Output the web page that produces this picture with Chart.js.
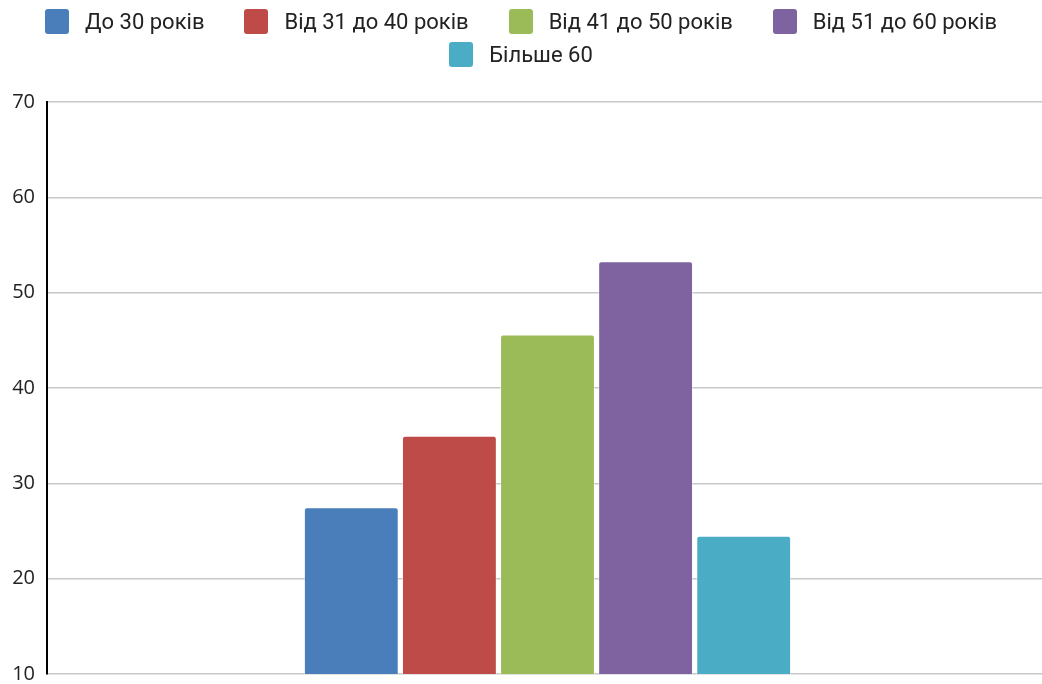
<!DOCTYPE html>
<html>
<head>
<meta charset="utf-8">
<script src="https://cdn.jsdelivr.net/npm/chart.js@4"></script>
<style>
  body { margin: 0; background: #fff; }
  #wrap { position: relative; width: 1042px; height: 684px; overflow: hidden; }
  #legend {
    position: absolute; top: 9px; left: 0; width: 1042px;
    display: flex; flex-wrap: wrap; justify-content: center;
    column-gap: 40px; row-gap: 8px;
    font-family: Roboto, sans-serif; font-size: 22px; color: #222;
  }
  .item { display: flex; align-items: center; height: 25px; }
  .box { width: 24px; height: 25px; border-radius: 3px; margin-right: 16px; }
</style>
</head>
<body>
<div id="wrap">
  <div id="legend"></div>
  <canvas id="chart" width="1048" height="698"></canvas>
</div>
<script>
// вікові групи і частка в кожній
const groups = ['До 30 років', 'Від 31 до 40 років', 'Від 41 до 50 років', 'Від 51 до 60 років', 'Більше 60'];
const values = [27.5, 35, 45.6, 53.3, 24.5];
const colors = ['#4a7ebb', '#be4b48', '#9bbb59', '#7e63a0', '#4bacc6'];
const yTicks = [10, 20, 30, 40, 50, 60, 70];

const datasets = groups.map((g, i) => ({
  label: g,
  data: [values[i]],
  backgroundColor: colors[i],
  borderColor: 'rgba(255,255,255,0.5)',
  borderWidth: 1,
  borderRadius: 3,
  borderSkipped: 'bottom',
  categoryPercentage: 0.49,
  barPercentage: 0.967
}));

const ctx = document.getElementById('chart').getContext('2d');
const myChart = new Chart(ctx, {
  type: 'bar',
  data: { labels: [''], datasets: datasets },
  options: {
    responsive: false,
    animation: false,
    layout: { padding: { top: 102, bottom: 0, left: 0, right: 0 } },
    plugins: { legend: { display: false }, tooltip: { enabled: false } },
    scales: {
      x: { display: false },
      y: {
        min: yTicks[0],
        max: yTicks[yTicks.length - 1],
        afterFit: s => { s.width = 47; },
        afterBuildTicks: s => { s.ticks = yTicks.map(v => ({ value: v })); },
        border: { color: '#000', width: 2 },
        grid: { color: '#c8c8c8', lineWidth: 1.5, drawTicks: false },
        ticks: {
          padding: 12,
          color: '#222',
          font: { family: '"Open Sans"', size: 20 }
        }
      }
    }
  }
});

// легенда над графіком
const legendEl = document.getElementById('legend');
Chart.defaults.plugins.legend.labels.generateLabels(myChart).forEach(item => {
  const el = document.createElement('div');
  el.className = 'item';
  el.innerHTML = '<span class="box" style="background:' + item.fillStyle + '"></span>' + item.text;
  legendEl.appendChild(el);
});
</script>
</body>
</html>
